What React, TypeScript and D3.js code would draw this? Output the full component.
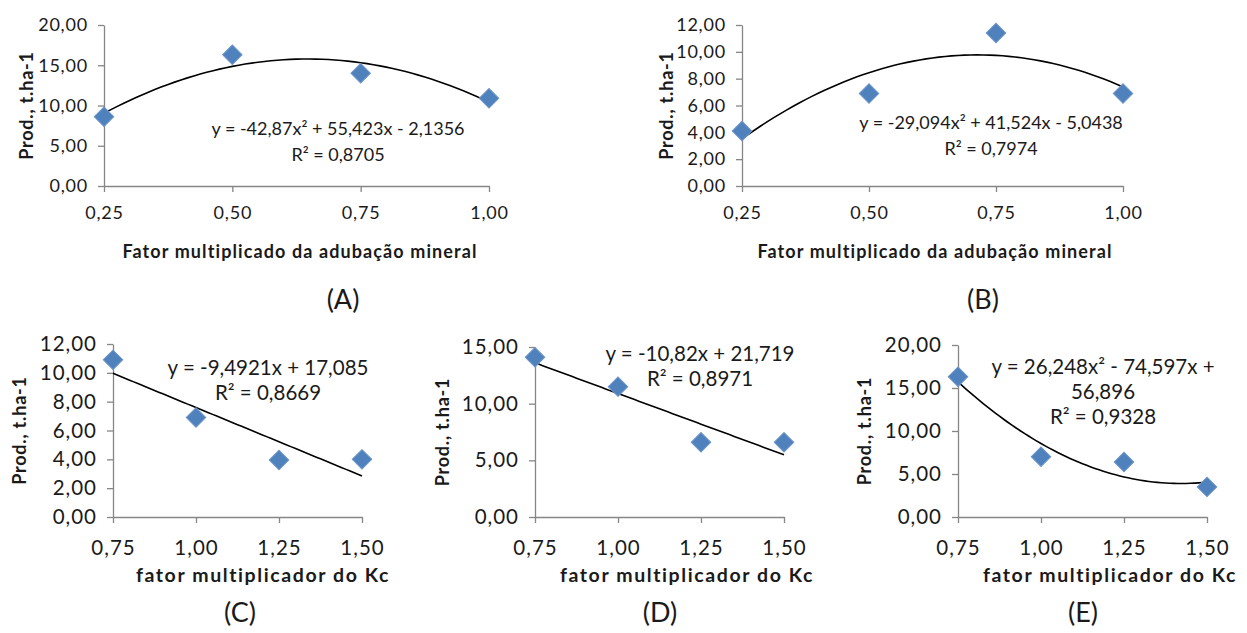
import React, { useEffect, useRef } from 'react';
import * as d3 from 'd3';

// ---- data ----
const xAdubacao = [0.25, 0.5, 0.75, 1.0];
const xKc = [0.75, 1.0, 1.25, 1.5];

const prodA = [8.6, 16.3, 14.0, 10.9];
const prodB = [4.1, 6.9, 11.4, 6.9];
const prodC = [10.9, 6.9, 3.95, 4.0];
const prodD = [14.1, 11.5, 6.6, 6.6];
const prodE = [16.3, 7.0, 6.4, 3.5];

// trend coefficients [c0, c1, c2] as printed on the chart
const coefA = [-2.1356, 55.423, -42.87];
const coefB = [-5.0438, 41.524, -29.094];
const coefC = [17.085, -9.4921, 0];
const coefD = [21.719, -10.82, 0];
const coefE = [56.896, -74.597, 26.248];

const eqA = ['y = -42,87x² + 55,423x - 2,1356', 'R² = 0,8705'];
const eqB = ['y = -29,094x² + 41,524x - 5,0438', 'R² = 0,7974'];
const eqC = ['y = -9,4921x + 17,085', 'R² = 0,8669'];
const eqD = ['y = -10,82x + 21,719', 'R² = 0,8971'];
const eqE = ['y = 26,248x² - 74,597x +', '56,896', 'R² = 0,9328'];

const yTicksA = [0, 5, 10, 15, 20];
const yTicksB = [0, 2, 4, 6, 8, 10, 12];
const yTicksC = [0, 2, 4, 6, 8, 10, 12];
const yTicksD = [0, 5, 10, 15];
const yTicksE = [0, 5, 10, 15, 20];

const W = 1247;
const H = 633;
const FONT = 'Lato, "DejaVu Sans", sans-serif';
const INK = '#1a1a1a';
const AXIS = '#868686';

const comma = (v: number, digits: number) => d3.format(`.${digits}f`)(v).replace('.', ',');

type PanelCfg = {
  box: [number, number, number, number]; // left, right, top, bottom
  xs: number[];
  ys: number[];
  yTicks: number[];
  coef: number[];
  eq: string[];
  eqPos: [number, number];
  xTitle: string;
  xTitleX: number;
  yTitleX: number;
  letter: string;
  letterPos: [number, number];
  xTitleY: number;
  tickY: number;
  tickFont: number;
  eqFont: number;
  eqGap: string;
  xTitleFont: number;
  xTitleSpacing: number;
};

const topStyle = { tickFont: 18, eqFont: 18, eqGap: '1.4em', xTitleFont: 18, xTitleSpacing: 1.1 };
const bottomStyle = { tickFont: 20.5, eqFont: 20.5, eqGap: '1.22em', xTitleFont: 19.5, xTitleSpacing: 1.6 };

const panels: PanelCfg[] = [
  {
    box: [104, 489, 25, 186], xs: xAdubacao, ys: prodA, yTicks: yTicksA, coef: coefA, eq: eqA,
    eqPos: [338, 129], xTitle: 'Fator multiplicado da adubação mineral', xTitleX: 300, yTitleX: 27,
    letter: '(A)', letterPos: [343, 300], xTitleY: 252, tickY: 213, ...topStyle,
  },
  {
    box: [742, 1123, 25, 186], xs: xAdubacao, ys: prodB, yTicks: yTicksB, coef: coefB, eq: eqB,
    eqPos: [991, 123], xTitle: 'Fator multiplicado da adubação mineral', xTitleX: 935, yTitleX: 667,
    letter: '(B)', letterPos: [983, 300], xTitleY: 252, tickY: 213, ...topStyle,
  },
  {
    box: [113, 362, 344, 517], xs: xKc, ys: prodC, yTicks: yTicksC, coef: coefC, eq: eqC,
    eqPos: [268, 368], xTitle: 'fator multiplicador do Kc', xTitleX: 263, yTitleX: 20,
    letter: '(C)', letterPos: [240, 613], xTitleY: 575, tickY: 548, ...bottomStyle,
  },
  {
    box: [535, 784, 347, 517], xs: xKc, ys: prodD, yTicks: yTicksD, coef: coefD, eq: eqD,
    eqPos: [700, 354], xTitle: 'fator multiplicador do Kc', xTitleX: 687, yTitleX: 443,
    letter: '(D)', letterPos: [660, 613], xTitleY: 575, tickY: 548, ...bottomStyle,
  },
  {
    box: [958, 1207, 345, 517], xs: xKc, ys: prodE, yTicks: yTicksE, coef: coefE, eq: eqE,
    eqPos: [1103, 367], xTitle: 'fator multiplicador do Kc', xTitleX: 1110, yTitleX: 865,
    letter: '(E)', letterPos: [1083, 613], xTitleY: 575, tickY: 548, ...bottomStyle,
  },
];

const App = () => {
  const svgRef = useRef<SVGSVGElement>(null);

  useEffect(() => {
    const svg = d3.select(svgRef.current);
    svg.selectAll('*').remove();

    panels.forEach((p) => {
      const [left, right, top, bottom] = p.box;
      const x = d3.scaleLinear().domain([p.xs[0], p.xs[p.xs.length - 1]]).range([left, right]);
      const y = d3.scaleLinear().domain([0, p.yTicks[p.yTicks.length - 1]]).range([bottom, top]);
      const g = svg.append('g');
      const spacing = p.tickFont > 19 ? 1 : 0.8;

      // y axis
      const ya = g.append('g')
        .attr('transform', `translate(${left},0)`)
        .call(d3.axisLeft(y).tickValues(p.yTicks).tickSize(6).tickSizeOuter(0).tickPadding(10).tickFormat((d) => comma(+d, 2)));
      ya.select('.domain').attr('stroke', AXIS).attr('stroke-width', 1.3);
      ya.selectAll('.tick line').attr('stroke', AXIS).attr('stroke-width', 1.3);
      ya.selectAll('.tick text')
        .attr('font-family', FONT).attr('font-size', p.tickFont)
        .attr('letter-spacing', spacing).attr('fill', INK);

      // x axis
      const xa = g.append('g')
        .attr('transform', `translate(0,${bottom})`)
        .call(d3.axisBottom(x).tickValues(p.xs).tickSize(6).tickSizeOuter(0).tickFormat((d) => comma(+d, 2)));
      xa.select('.domain').attr('stroke', AXIS).attr('stroke-width', 1.3);
      xa.selectAll('.tick line').attr('stroke', AXIS).attr('stroke-width', 1.3);
      xa.selectAll('.tick text')
        .attr('y', p.tickY - bottom)
        .attr('dy', '0.35em')
        .attr('font-family', FONT).attr('font-size', p.tickFont)
        .attr('letter-spacing', spacing).attr('fill', INK);

      // trend line
      const f = (v: number) => p.coef[0] + p.coef[1] * v + p.coef[2] * v * v;
      const samples = d3.range(0, 61).map((i) => p.xs[0] + (i / 60) * (p.xs[p.xs.length - 1] - p.xs[0]));
      const line = d3.line<number>().x((v) => x(v)).y((v) => y(f(v)));
      g.append('path')
        .datum(samples)
        .attr('d', line)
        .attr('fill', 'none')
        .attr('stroke', '#000')
        .attr('stroke-width', 1.6);

      // diamonds
      const diamond = d3.symbol().type(d3.symbolSquare).size(190);
      g.selectAll('.pt')
        .data(p.xs.map((xv, i) => [xv, p.ys[i]]))
        .enter()
        .append('path')
        .attr('d', diamond)
        .attr('transform', (d) => `translate(${x(d[0])},${y(d[1])}) rotate(45)`)
        .attr('fill', '#4f81bd')
        .attr('stroke', '#6d95c8')
        .attr('stroke-width', 1);

      // equation
      g.append('text')
        .attr('x', p.eqPos[0])
        .attr('y', p.eqPos[1])
        .attr('text-anchor', 'middle')
        .attr('font-family', FONT)
        .attr('font-size', p.eqFont)
        .attr('fill', INK)
        .selectAll('tspan')
        .data(p.eq)
        .enter()
        .append('tspan')
        .attr('x', p.eqPos[0])
        .attr('dy', (_d, i) => (i === 0 ? '0.35em' : p.eqGap))
        .text((d) => d);

      // axis titles
      g.append('text')
        .attr('x', p.xTitleX)
        .attr('y', p.xTitleY)
        .attr('dy', '0.35em')
        .attr('text-anchor', 'middle')
        .attr('font-family', FONT)
        .attr('font-weight', 'bold')
        .attr('font-size', p.xTitleFont)
        .attr('letter-spacing', p.xTitleSpacing)
        .attr('fill', INK)
        .text(p.xTitle);

      g.append('text')
        .attr('transform', `translate(${p.yTitleX},${(top + bottom) / 2}) rotate(-90)`)
        .attr('dy', '0.35em')
        .attr('text-anchor', 'middle')
        .attr('font-family', FONT)
        .attr('font-weight', 'bold')
        .attr('font-size', 18)
        .attr('letter-spacing', 0.8)
        .attr('fill', INK)
        .text('Prod., t.ha-1');

      // panel letter
      g.append('text')
        .attr('x', p.letterPos[0])
        .attr('y', p.letterPos[1])
        .attr('dy', '0.35em')
        .attr('text-anchor', 'middle')
        .attr('font-family', FONT)
        .attr('font-size', 27)
        .attr('fill', INK)
        .text(p.letter);
    });
  }, []);

  return (
    <svg
      ref={svgRef}
      width={W}
      height={H}
      style={{ position: 'absolute', left: 0, top: 0, background: '#fff' }}
    />
  );
};

export default App;
